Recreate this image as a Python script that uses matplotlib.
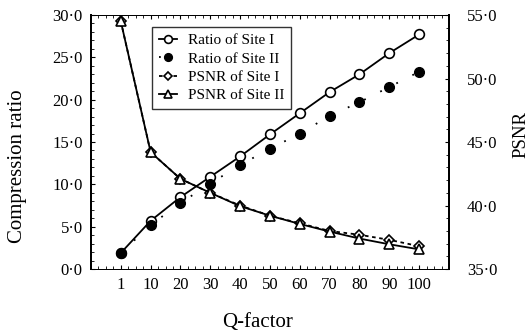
import matplotlib
matplotlib.use("Agg")
import matplotlib.pyplot as plt
from matplotlib.ticker import FuncFormatter, MultipleLocator

plt.rcParams["font.family"] = ["Liberation Serif", "DejaVu Serif"]

qfactor = [1, 10, 20, 30, 40, 50, 60, 70, 80, 90, 100]
ratio_site1 = [1.9, 5.7, 8.5, 10.9, 13.3, 15.9, 18.4, 20.9, 23.0, 25.5, 27.7]
ratio_site2 = [1.9, 5.2, 7.8, 10.1, 12.3, 14.2, 16.0, 18.1, 19.7, 21.5, 23.3]
psnr_site1 = [54.5, 44.2, 42.1, 41.0, 40.0, 39.2, 38.6, 38.0, 37.7, 37.3, 36.8]
psnr_site2 = [54.5, 44.2, 42.1, 41.0, 39.95, 39.2, 38.55, 37.95, 37.4, 36.95, 36.55]

pos = list(range(1, len(qfactor) + 1))

def dotfmt(v, p):
    return ("%.1f" % v).replace(".", "\u00b7")

fig = plt.figure(figsize=(5.32, 3.33), dpi=100)
ax = fig.add_axes([0.171, 0.192, 0.673, 0.763])
ax2 = ax.twinx()

l1, = ax.plot(pos, ratio_site1, "-", color="black", lw=1.3, marker="o", ms=7,
              mfc="white", mec="black", mew=1.2, label="Ratio of Site I")
l2, = ax.plot(pos, ratio_site2, color="black", lw=1.3, ls=(0, (1, 9)), marker="o", ms=7,
              mfc="black", mec="black", label="Ratio of Site II")
l3, = ax2.plot(pos, psnr_site1, color="black", lw=1.3, ls=(0, (2, 2)), marker="D", ms=5,
               mfc="white", mec="black", mew=1.2, label="PSNR of Site I")
l4, = ax2.plot(pos, psnr_site2, "-", color="black", lw=1.3, marker="^", ms=6.5,
               mfc="white", mec="black", mew=1.2, label="PSNR of Site II")

ax.set_xlim(0, 12)
ax.set_ylim(0, 30)
ax2.set_ylim(35, 55)
ax.set_xticks(pos)
ax.set_xticklabels([str(q) for q in qfactor])
ax.yaxis.set_major_locator(MultipleLocator(5))
ax.yaxis.set_minor_locator(MultipleLocator(1))
ax2.yaxis.set_major_locator(MultipleLocator(5))
ax2.yaxis.set_minor_locator(MultipleLocator(1))
ax.xaxis.set_minor_locator(MultipleLocator(0.25))
ax.yaxis.set_major_formatter(FuncFormatter(dotfmt))
ax2.yaxis.set_major_formatter(FuncFormatter(dotfmt))

ax.tick_params(axis="x", which="both", direction="in", top=True, labelsize=12, pad=6)
ax.tick_params(axis="x", which="major", length=3)
ax.tick_params(axis="x", which="minor", length=2)
ax.tick_params(axis="y", which="major", direction="in", length=3, labelsize=12, pad=6)
ax.tick_params(axis="y", which="minor", direction="in", length=2)
ax2.tick_params(axis="y", which="major", direction="in", length=3, labelsize=12, pad=13)
ax2.tick_params(axis="y", which="minor", direction="in", length=2)

for s in ["left", "right"]:
    ax.spines[s].set_linewidth(1.4)
    ax2.spines[s].set_linewidth(1.4)
for s in ["top", "bottom"]:
    ax.spines[s].set_linewidth(0.7)
    ax2.spines[s].set_linewidth(0.7)

ax.set_ylabel("Compression ratio", fontsize=15)
ax2.set_ylabel("PSNR", fontsize=13.5)
ax.set_xlabel("Q-factor", fontsize=15)
ax.yaxis.set_label_coords(-0.18, 0.405)
ax2.yaxis.set_label_coords(1.178, 0.53)
ax.xaxis.set_label_coords(0.464, -0.173)

leg = ax2.legend(handles=[l1, l2, l3, l4], loc="upper left", bbox_to_anchor=(0.170, 0.953),
                 borderaxespad=0, fontsize=11, frameon=True, fancybox=False,
                 edgecolor="black", handlelength=1.2, handletextpad=0.7,
                 labelspacing=0.3, borderpad=0.45, markerscale=0.8)
leg.get_frame().set_linewidth(1.0)

fig.savefig("out.png", dpi=100)
